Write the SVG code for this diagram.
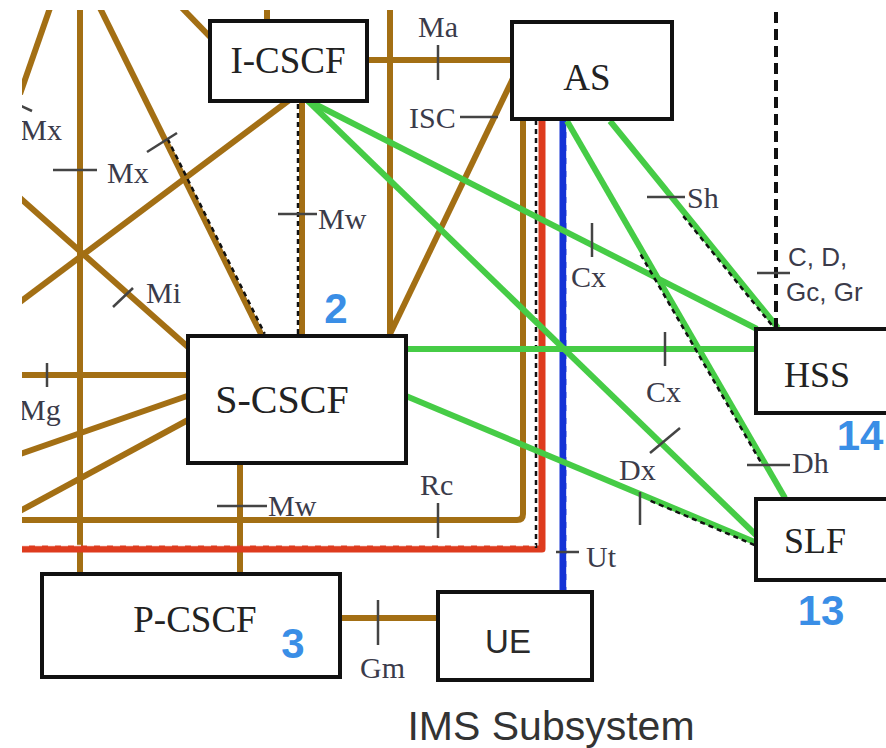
<svg xmlns="http://www.w3.org/2000/svg" width="886" height="748" viewBox="0 0 886 748">
<defs>
<clipPath id="clip"><rect x="22" y="10" width="864" height="738"/></clipPath>
<style>
.br{stroke:#a36f14;stroke-width:6;fill:none;stroke-linejoin:round}
.gr{stroke:#46cc46;stroke-width:6;fill:none}
.tk{stroke:#444;stroke-width:2.5;fill:none}
.dk{stroke:#111;stroke-width:2.5;stroke-dasharray:5 4;fill:none}
.wd{stroke:#fff;stroke-width:1.5;stroke-dasharray:7 6;fill:none;opacity:0.8}
.box{fill:#fff;stroke:#111;stroke-width:4}
.nt{font-family:"Liberation Serif","Times New Roman",serif;font-size:37px;fill:#222;text-anchor:middle}
.ns{font-family:"Liberation Sans",Arial,sans-serif;fill:#2a2a2a;text-anchor:middle}
.lb{font-family:"Liberation Serif","Times New Roman",serif;font-size:30px;fill:#3b3b4a}
.cd{font-family:"Liberation Sans",Arial,sans-serif;font-size:26px;fill:#3b3b4a}
.num{font-family:"Liberation Sans",Arial,sans-serif;font-weight:bold;font-size:42px;fill:#3a8ee6;text-anchor:middle}
</style>
</defs>
<rect width="886" height="748" fill="#fff"/>
<g id="connectors" clip-path="url(#clip)">
  <line class="br" x1="50" y1="8" x2="20" y2="94"/>
  <line class="br" x1="80" y1="8" x2="80" y2="574"/>
  <line class="br" x1="100" y1="8" x2="262" y2="336"/>
  <line class="br" x1="182" y1="8" x2="215" y2="42"/>
  <line class="br" x1="267" y1="8" x2="267" y2="22"/>
  <line class="br" x1="292" y1="98" x2="20" y2="302"/>
  <line class="br" x1="20" y1="198" x2="188" y2="347"/>
  <line class="br" x1="20" y1="375" x2="188" y2="375"/>
  <line class="br" x1="20" y1="454" x2="190" y2="395"/>
  <line class="br" x1="20" y1="511" x2="188" y2="420"/>
  <line class="br" x1="302" y1="101" x2="302" y2="336"/>
  <line class="br" x1="390" y1="8" x2="390" y2="336"/>
  <line class="br" x1="390" y1="334" x2="518" y2="68"/>
  <line class="br" x1="366" y1="60" x2="512" y2="60"/>
  <line class="br" x1="240" y1="463" x2="240" y2="574"/>
  <line class="br" x1="340" y1="618" x2="438" y2="618"/>
  <path class="br" d="M20 520 H517 Q523 520 523 514 V120"/>
  <path d="M20 549 H542 V120" fill="none" stroke="#de3b1e" stroke-width="7" stroke-linejoin="round"/>
  <line class="dk" x1="536" y1="120" x2="536" y2="548"/>
  <line class="wd" x1="22" y1="545.5" x2="536" y2="545.5"/>
  <line x1="563" y1="120" x2="563" y2="592" stroke="#1433d6" stroke-width="7"/>
  <line class="wd" x1="567" y1="125" x2="567" y2="590"/>
  <line class="gr" x1="307" y1="100" x2="757" y2="329"/>
  <line class="gr" x1="307" y1="100" x2="757" y2="536"/>
  <line class="gr" x1="406" y1="349" x2="757" y2="349"/>
  <line class="gr" x1="406" y1="396" x2="757" y2="543"/>
  <line class="gr" x1="610" y1="121" x2="778" y2="328"/>
  <line class="gr" x1="567" y1="121" x2="785" y2="498"/>
  <line class="dk" x1="298" y1="104" x2="298" y2="334"/>
  <line class="dk" x1="167.5" y1="138.7" x2="264.7" y2="333.7"/>
  <line class="dk" x1="683.3" y1="216.1" x2="775.7" y2="329.9"/>
  <line class="dk" x1="640.7" y1="254.5" x2="760.6" y2="461.8"/>
  <line class="dk" x1="650.6" y1="500.9" x2="755.9" y2="545.6"/>
  <line x1="776" y1="12" x2="776" y2="328" stroke="#111" stroke-width="4" stroke-dasharray="11 6"/>
  <line class="tk" x1="15" y1="103" x2="32" y2="111"/>
  <line class="tk" x1="53" y1="170" x2="97" y2="170"/>
  <line class="tk" x1="147" y1="152" x2="177" y2="133"/>
  <line class="tk" x1="438" y1="45" x2="438" y2="80"/>
  <line class="tk" x1="460" y1="117" x2="498" y2="117"/>
  <line class="tk" x1="278" y1="214" x2="317" y2="214"/>
  <line class="tk" x1="113" y1="307" x2="133" y2="288"/>
  <line class="tk" x1="47" y1="363" x2="47" y2="387"/>
  <line class="tk" x1="217" y1="506" x2="267" y2="506"/>
  <line class="tk" x1="438" y1="503" x2="438" y2="538"/>
  <line class="tk" x1="592" y1="223" x2="592" y2="257"/>
  <line class="tk" x1="647" y1="197" x2="685" y2="197"/>
  <line class="tk" x1="757" y1="273" x2="790" y2="273"/>
  <line class="tk" x1="665" y1="332" x2="665" y2="366"/>
  <line class="tk" x1="650" y1="453" x2="680" y2="428"/>
  <line class="tk" x1="640" y1="492" x2="640" y2="525"/>
  <line class="tk" x1="747" y1="465" x2="790" y2="465"/>
  <line class="tk" x1="556" y1="552" x2="579" y2="552"/>
  <line class="tk" x1="378" y1="600" x2="378" y2="645"/>
</g>
<g id="labels">
  <g clip-path="url(#clip)">
    <text class="lb" x="62" y="140" text-anchor="end">Mx</text>
    <text class="lb" x="19" y="420">Mg</text>
  </g>
  <text class="lb" x="107" y="183">Mx</text>
  <text class="lb" x="418" y="37">Ma</text>
  <text class="lb" x="409" y="128">ISC</text>
  <text class="lb" x="318" y="229">Mw</text>
  <text class="lb" x="146" y="303">Mi</text>
  <text class="lb" x="268" y="516">Mw</text>
  <text class="lb" x="420" y="495">Rc</text>
  <text class="lb" x="571" y="287">Cx</text>
  <text class="lb" x="687" y="208">Sh</text>
  <text class="cd" x="788" y="266">C, D,</text>
  <text class="cd" x="786" y="301">Gc, Gr</text>
  <text class="lb" x="646" y="402">Cx</text>
  <text class="lb" x="619" y="480">Dx</text>
  <text class="lb" x="792" y="473">Dh</text>
  <text class="lb" x="586" y="567">Ut</text>
  <text class="lb" x="360" y="678">Gm</text>
</g>
<g id="I-CSCF"><rect class="box" x="210" y="21" width="157" height="80"/><text class="nt" x="288" y="73">I-CSCF</text></g>
<g id="AS"><rect class="box" x="512" y="22" width="160" height="97"/><text class="nt" x="587" y="90">AS</text></g>
<g id="S-CSCF"><rect class="box" x="188" y="336" width="218" height="127"/><text class="nt" x="282" y="413" style="font-size:40px">S-CSCF</text></g>
<g id="HSS"><rect class="box" x="756" y="329" width="140" height="84"/><text class="nt" x="817" y="387" style="font-size:36px">HSS</text></g>
<g id="SLF"><rect class="box" x="756" y="499" width="140" height="81"/><text class="nt" x="815" y="553" style="font-size:36px">SLF</text></g>
<g id="P-CSCF"><rect class="box" x="42" y="574" width="298" height="103"/><text class="nt" x="195" y="632">P-CSCF</text></g>
<g id="UE"><rect class="box" x="438" y="592" width="154" height="88"/><text class="ns" x="508" y="653" style="font-size:33px">UE</text></g>
<g id="numbers">
  <text class="num" x="336" y="323">2</text>
  <text class="num" x="293" y="658">3</text>
  <text class="num" x="821" y="625">13</text>
  <text class="num" x="860" y="450">14</text>
</g>
<text class="ns" x="551" y="740" style="font-size:41px;fill:#333">IMS Subsystem</text>
</svg>
